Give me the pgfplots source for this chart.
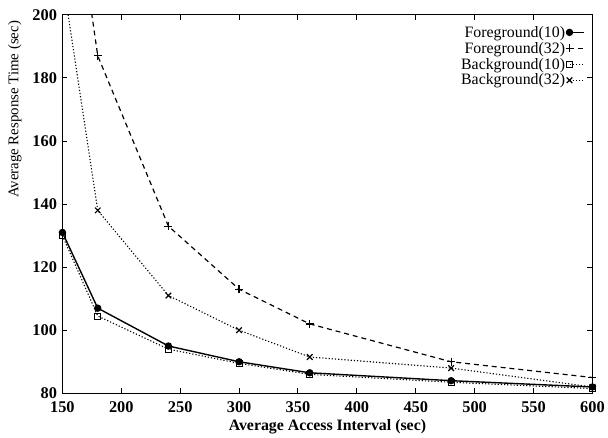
\documentclass[border=0pt]{standalone}
\usepackage{pgfplots}
\pgfplotsset{compat=1.18}
\usepackage{fontspec}
\setmainfont{Liberation Serif}
\begin{document}
\begin{tikzpicture}
\begin{axis}[
  scale only axis, width=535pt, height=382pt,
  xmin=150, xmax=600, ymin=80, ymax=200,
  xtick={150,200,...,600}, ytick={80,100,...,200},
  tick align=inside, major tick length=5pt,
  axis line style={line width=1.2pt},
  every tick/.style={black, line width=1pt},
  tick label style={font=\fontsize{16.5}{17}\selectfont\bfseries},
  xticklabel style={yshift=-5pt},
  yticklabel style={xshift=-2pt},
  /pgf/number format/assume math mode=true,
  xlabel={Average Access Interval (sec)},
  ylabel={Average Response Time (sec)},
  xlabel style={font=\fontsize{16}{16}\selectfont\bfseries, at={(axis description cs:0.5,-0.088)}, anchor=center},
  ylabel style={font=\fontsize{15}{15}\selectfont, at={(axis description cs:-0.09,0.75)}, anchor=center},
  clip=true,
  legend style={draw=none, fill=none, at={(0.985,0.972)}, anchor=north east,
    font=\fontsize{16}{16}\selectfont, row sep=2.5pt, inner sep=0pt,
    nodes={inner sep=0.5pt}},
  legend cell align=right,
  legend plot pos=right,
  legend image code/.code={\draw[mark repeat=2,mark phase=1] plot coordinates {(0cm,0cm) (0.5cm,0cm)};},
]
\addplot[black, line width=1.4pt, mark=*, mark size=3pt, mark options={solid}]
 coordinates {(150,131) (180,107) (240,95) (300,90) (360,86.5) (480,84) (600,82)};
\addlegendentry{Foreground(10)}
\addplot[black, line width=1.2pt, dash pattern=on 5pt off 4pt, mark=+, mark size=4pt, mark options={solid, line width=1.2pt}]
 coordinates {(150,265) (180,187) (240,133) (300,113) (360,102) (480,90) (600,85)};
\addlegendentry{Foreground(32)}
\addplot[black, line width=1.1pt, dash pattern=on 1.2pt off 2pt, mark=square, mark size=3pt, mark options={solid, line width=1pt}]
 coordinates {(150,130) (180,104.5) (240,94) (300,89.5) (360,86) (480,83.5) (600,81.5)};
\addlegendentry{Background(10)}
\addplot[black, line width=1.1pt, dash pattern=on 1.2pt off 2pt, mark=x, mark size=4pt, mark options={solid, line width=1.2pt}]
 coordinates {(150,212) (180,138) (240,111) (300,100) (360,91.5) (480,88) (600,82)};
\addlegendentry{Background(32)}
\end{axis}
\path[use as bounding box] ([xshift=-63pt,yshift=-42pt]current axis.south west) rectangle ([xshift=10pt,yshift=15pt]current axis.north east);
\end{tikzpicture}
\end{document}
